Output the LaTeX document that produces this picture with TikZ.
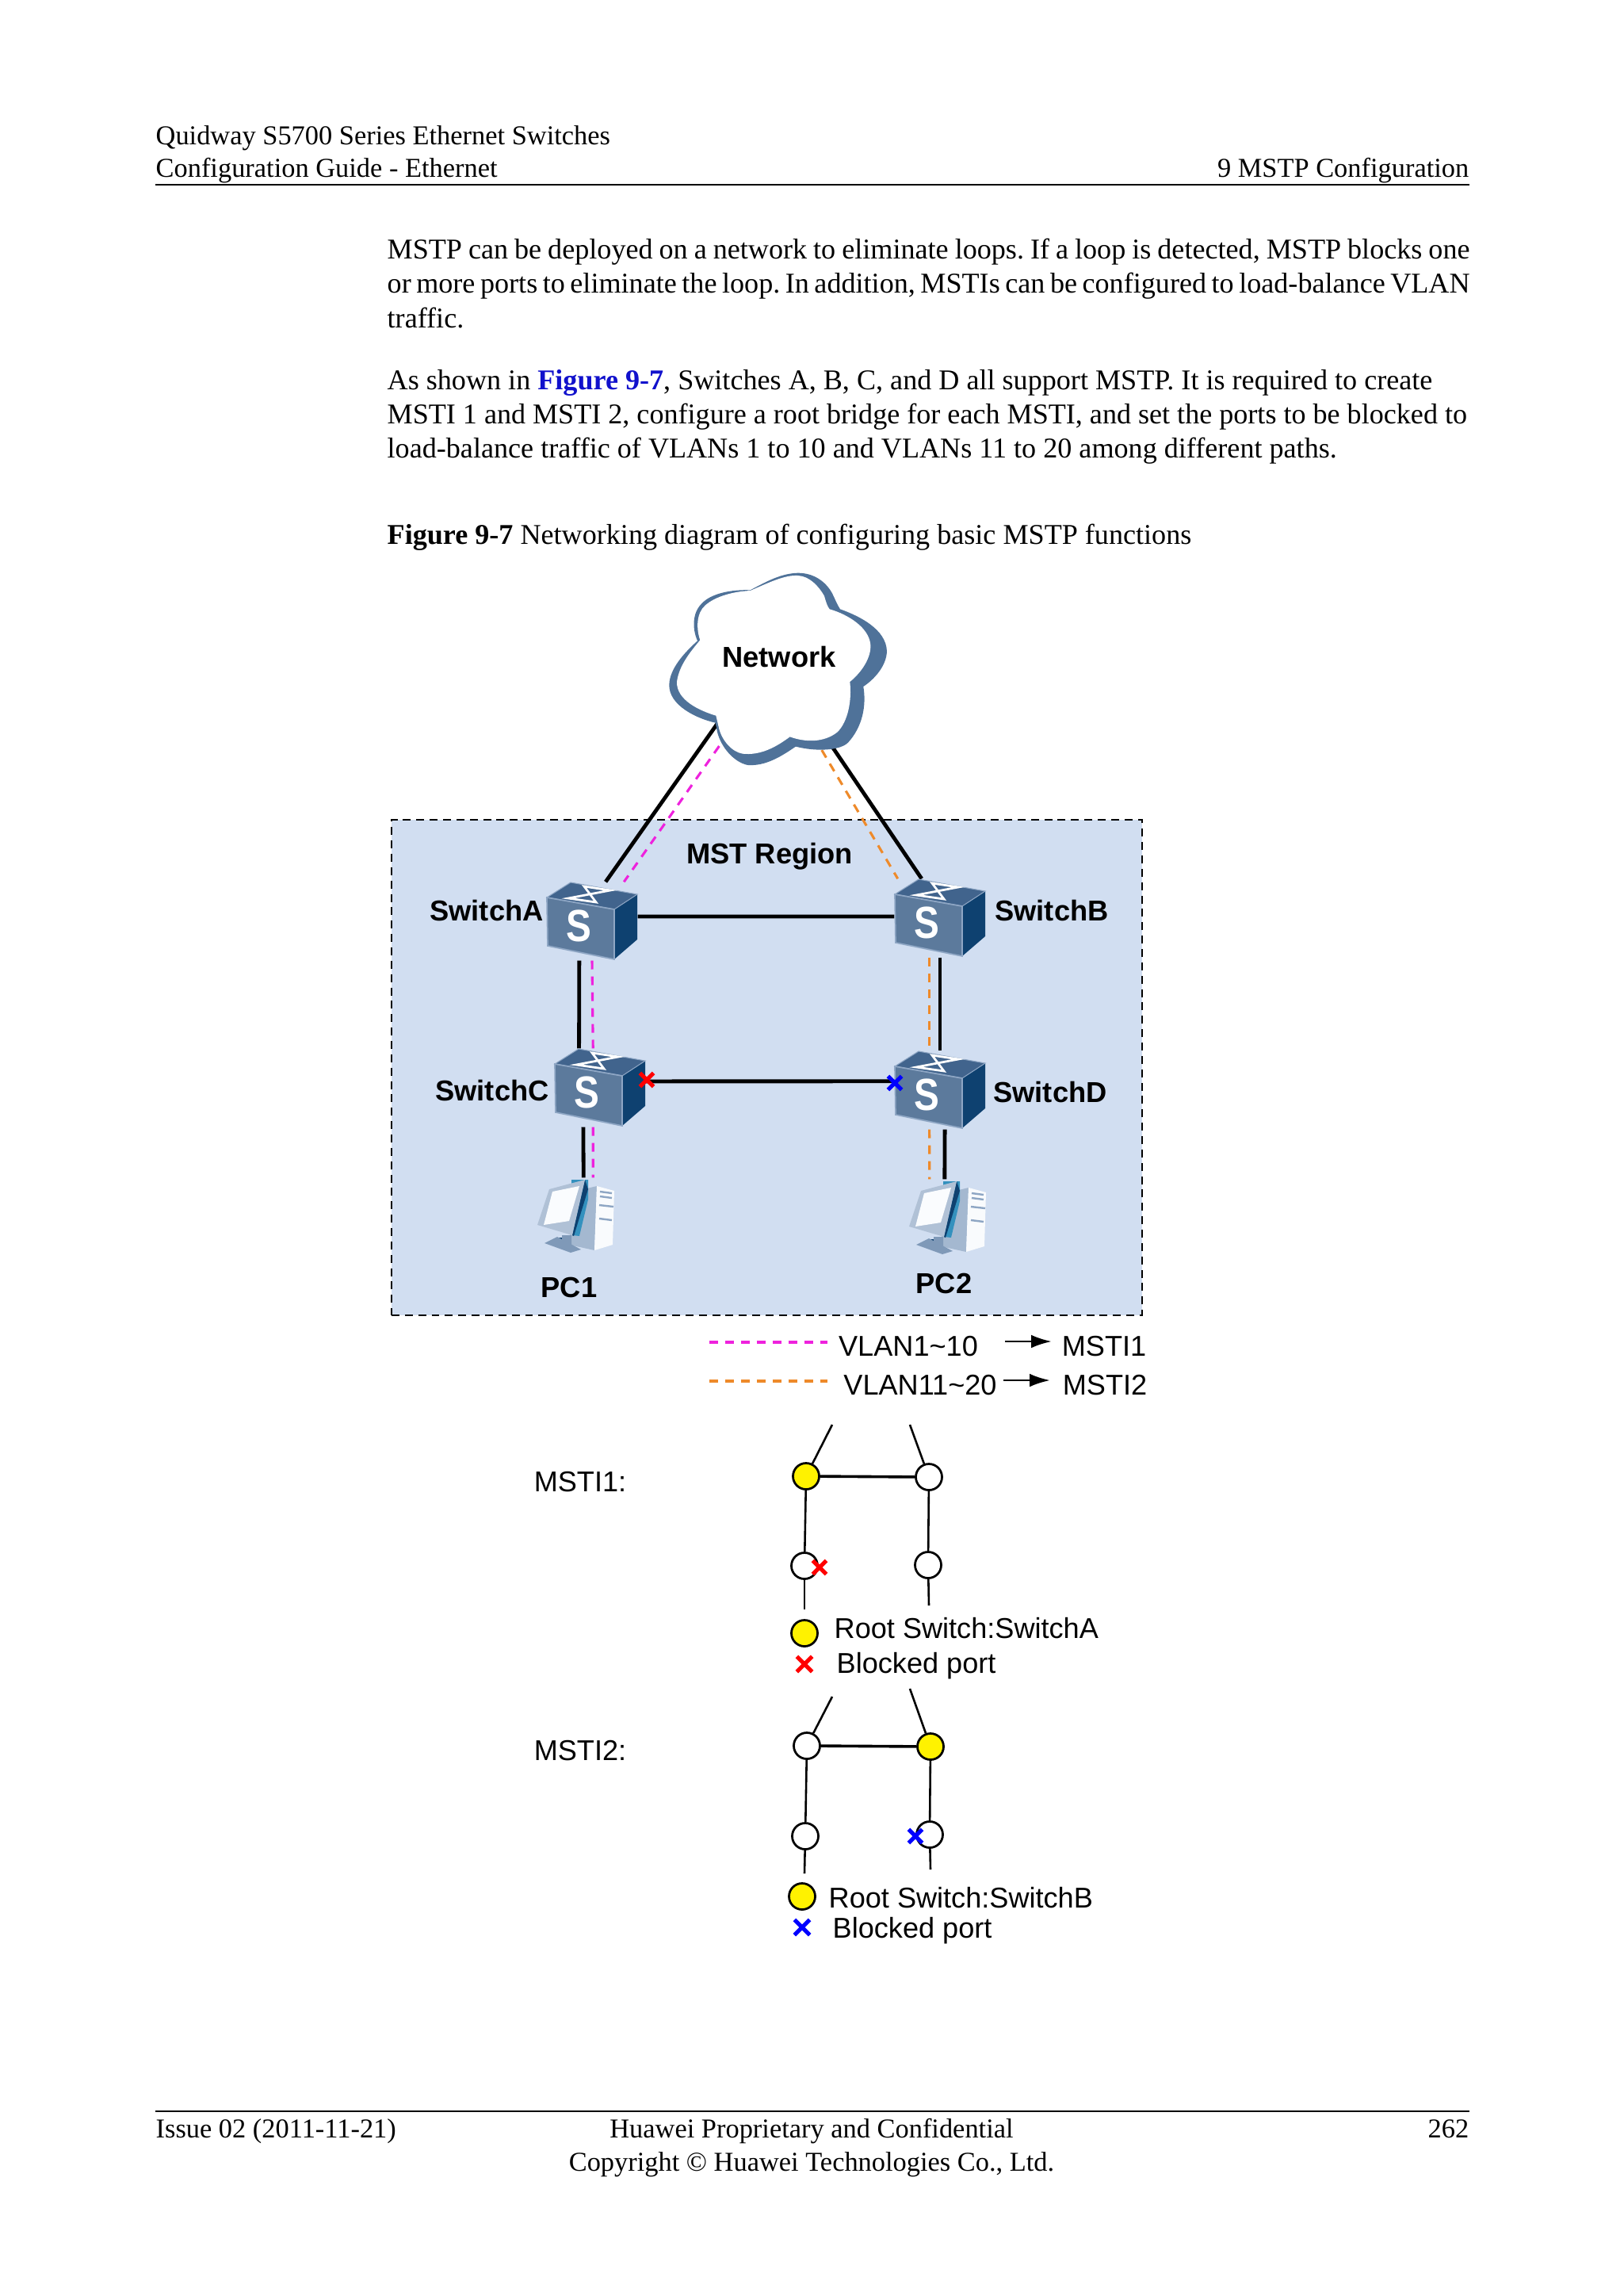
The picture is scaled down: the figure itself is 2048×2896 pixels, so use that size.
\documentclass[tikz,border=0pt]{standalone}
\usepackage{fontspec}
\usepackage{tikz}
\usetikzlibrary{arrows.meta,backgrounds,shapes.misc}
\setmainfont{Liberation Serif}
\newfontfamily\arialfont{Liberation Sans}
\definecolor{regionfill}{HTML}{D1DEF1}
\definecolor{cloudblue}{HTML}{4F7299}
\definecolor{cubetop}{HTML}{41648D}
\definecolor{cubefront}{HTML}{5C7A9C}
\definecolor{cubeside}{HTML}{0E4170}
\definecolor{cubeedge}{HTML}{8EA6C4}
\definecolor{vlanpink}{HTML}{EE22DD}
\definecolor{vlanorange}{HTML}{EE8A2A}
\definecolor{figblue}{HTML}{1111CC}
\tikzset{
  page/.style={inner sep=0pt,font=\fontsize{10}{12.5}\selectfont},
  body/.style={inner sep=0pt,anchor=base west,font=\fontsize{10.5}{12.5}\selectfont\frenchspacing},
  devlabel/.style={inner sep=0pt,font=\arialfont\bfseries\fontsize{10.55}{12}\selectfont},
  plainlabel/.style={inner sep=0pt,font=\arialfont\fontsize{10.5}{12}\selectfont},
  switchnode/.style={rectangle,inner sep=0pt,minimum width=33.1pt,minimum height=28.5pt},
  pcnode/.style={rectangle,inner sep=0pt,minimum width=27.9pt,minimum height=27.3pt},
  port/.style={circle,draw=black,line width=0.8pt,inner sep=0pt,minimum size=9.6pt,fill=white},
  rootport/.style={port,fill=yellow},
  blockx/.style={cross out,inner sep=0pt,minimum size=5pt,line width=1.5pt,outer sep=0pt,draw=#1},
  link/.style={line width=1.4pt,black},
  thinlink/.style={line width=0.75pt,black},
  vlanone/.style={line width=0.9pt,vlanpink,dash pattern=on 3.2pt off 2.6pt},
  vlantwo/.style={line width=0.9pt,vlanorange,dash pattern=on 3.2pt off 2.6pt},
  legendarrow/.style={-{Latex[length=7.5pt,width=4.8pt]},line width=0.85pt,black},
  cube/.pic={
    \fill [cubeside] (28,-15) -- (57,-34) -- (57,23) -- (28,48) -- cycle;
    \fill [cubetop,draw=cubeedge,line width=0.3pt] (-57,-30) -- (-27,-49) -- (57,-34) -- (28,-15) -- cycle;
    \fill [cubefront,draw=cubeedge,line width=0.5pt] (-57,-30) -- (28,-15) -- (28,48) -- (-56,31) -- cycle;
    \draw [white,line width=0.8pt] (-30,-29) -- (5,-24) -- (-10,-44) -- (23,-39) -- cycle;
    \node (-s) [white,inner sep=0pt,font=\arialfont\bfseries\fontsize{16.5}{18}\selectfont] at (-17,6) {\scalebox{0.84}[1]{S}};
  },
  pcicon/.pic={
    % tower, then monitor in front of it
    \fill [cubeedge!80!white] (26,-37) -- (23,44) -- (-9,37) -- (-3,-30) -- cycle;
    \fill [white!88!regionfill] (26,-37) -- (48,-31) -- (46,37) -- (23,44) -- cycle;
    \draw [cubeedge,line width=0.7pt] (30,-30) -- (45,-28) (30,-24) -- (45,-22) (29,-13) -- (47,-11) (29,4) -- (45,6);
    \fill [cubeside] (-24,28) -- (-8,28) -- (-6,44) -- (-20,40) -- cycle;
    \fill [cubeedge!70!cubefront] (-40,35) -- (-24,27) -- (6,43) -- (-7,47) -- cycle;
    \fill [cubeedge!70!cubefront] (-18,25) -- (-6,25) -- (-6,42) -- (-18,38) -- cycle;
    \fill [cyan!60!cubeside] (-6,-45) -- (15,-45) -- (15,-20) -- (4,26) -- (-5,25) -- cycle;
    \fill [cubeside] (11,-45) -- (15,-33) -- (-3,26) -- (-5,25) -- cycle;
    \fill [cubeedge!70!white] (-49,12) -- (-34,-33) -- (11,-45) -- (-5,25) -- cycle;
    \fill [white!90!regionfill] (-41,12) -- (-30,-30) -- (4,-37) -- (-9,7) -- cycle;
  },
}
\begin{document}
\begin{tikzpicture}[x=0.29066pt,y=-0.29066pt]
    \useasboundingbox (0,0) rectangle (2048,2896);
    % page text
    \node [page,anchor=base west] (head1) at (196,182) {Quidway S5700 Series Ethernet Switches};
    \node [page,anchor=base west] (head2) at (196,223) {Configuration Guide - Ethernet};
    \node [page,anchor=base east] (head3) at (1854,223) {9 MSTP Configuration};
    \coordinate (ruleAl) at (196,233);
    \coordinate (ruleAr) at (1854,233);
    \draw [line width=0.4pt] (ruleAl) -- (ruleAr);
    \node [body] (par1) at (488,326) {\makebox[397pt][s]{MSTP can be deployed on a network to eliminate loops. If a loop is detected, MSTP blocks one}};
    \node [body] (par2) at (488,369) {\makebox[397pt][s]{or more ports to eliminate the loop. In addition, MSTIs can be configured to load-balance VLAN}};
    \node [body] (par3) at (488,413) {traffic.};
    \node [body] (par4) at (488,491) {As shown in {\bfseries\color{figblue}Figure 9-7}, Switches A, B, C, and D all support MSTP. It is required to create};
    \node [body] (par5) at (488,534) {\makebox[396pt][s]{MSTI 1 and MSTI 2, configure a root bridge for each MSTI, and set the ports to be blocked to}};
    \node [body] (par6) at (488,577) {load-balance traffic of VLANs 1 to 10 and VLANs 11 to 20 among different paths.};
    \node [body] (cap) at (488,686) {{\bfseries Figure 9-7} Networking diagram of configuring basic MSTP functions};
    % network part
    \node [switchnode] (swA) at (747,1162) {};
    \node [switchnode] (swB) at (1186,1158) {};
    \node [switchnode] (swC) at (757,1372) {};
    \node [switchnode] (swD) at (1186,1375) {};
    \node [pcnode] (pc1) at (727,1533) {};
    \node [pcnode] (pc2) at (1196,1535) {};
    \begin{scope}[shift={(830,710)},scale=0.3333]
      \fill [cloudblue] (350,103) .. controls (420,65) and (470,40) .. (530,38)
        .. controls (590,38) and (635,70) .. (660,115)
        .. controls (672,140) and (680,160) .. (690,175)
        .. controls (760,200) and (865,250) .. (867,335)
        .. controls (865,390) and (820,440) .. (778,468)
        .. controls (790,540) and (775,620) .. (720,680)
        .. controls (690,710) and (600,715) .. (522,695)
        .. controls (470,730) and (410,770) .. (340,765)
        .. controls (290,755) and (240,700) .. (225,640)
        -- (218,605)
        .. controls (150,590) and (40,540) .. (43,460)
        .. controls (45,400) and (100,340) .. (150,295)
        .. controls (130,250) and (130,190) .. (165,155)
        .. controls (200,115) and (280,100) .. (350,103) -- cycle;
      \fill [white] (350,105) .. controls (420,75) and (480,45) .. (530,48)
        .. controls (575,50) and (610,90) .. (630,125)
        .. controls (637,150) and (642,165) .. (650,175)
        .. controls (720,195) and (800,245) .. (805,310)
        .. controls (808,360) and (770,415) .. (727,450)
        .. controls (735,520) and (720,600) .. (680,640)
        .. controls (630,680) and (560,680) .. (500,658)
        .. controls (450,695) and (390,730) .. (320,722)
        .. controls (280,715) and (240,670) .. (230,620)
        -- (220,578)
        .. controls (160,560) and (70,520) .. (72,450)
        .. controls (80,390) and (120,340) .. (160,292)
        .. controls (145,250) and (145,190) .. (180,160)
        .. controls (220,125) and (290,108) .. (350,105) -- cycle;
    \end{scope}
    \node [devlabel] (network) at (983,829) {Network};
    \node [devlabel] (region) at (971,1080) {MST Region};
    \node [devlabel] (labA) at (614,1149) {SwitchA};
    \node [devlabel] (labB) at (1327,1149) {SwitchB};
    \node [devlabel] (labC) at (621,1376) {SwitchC};
    \node [devlabel] (labD) at (1325,1378) {SwitchD};
    \node [devlabel] (labP1) at (718,1624) {PC1};
    \node [devlabel] (labP2) at (1191,1619) {PC2};
    \pic (cubeA) at (swA) {cube};
    \pic (cubeB) at (swB) {cube};
    \pic (cubeC) at (swC) {cube};
    \pic (cubeD) at (swD) {cube};
    \pic (iconA) at (pc1) {pcicon};
    \pic (iconB) at (pc2) {pcicon};
    \node [blockx=red] (blockC) at (816,1362) {};
    \node [blockx=blue] (blockD) at (1129,1366) {};
    % everything under the devices
    \begin{scope}[on background layer]
      \fill [white] (0,0) rectangle (2048,2896);
      \node [rectangle,draw=black,dash pattern=on 2.9pt off 2pt,line width=0.8pt,fill=regionfill,inner sep=0pt,minimum width=275.3pt,minimum height=181.7pt] (mstregion) at (967.5,1346.5) {};
      \draw [vlanone] (network.244) -- (swA.51);
      \draw [vlanone] (swA.south) -- (swC.100);
      \draw [vlanone] (swC.260) -- (pc1.66);
      \draw [vlantwo] (network.243) -- (swB.137);
      \draw [vlantwo] (swB.255) -- (swD.105);
      \draw [vlantwo] (swD.255) -- (pc2.116);
      \draw [link] (network.206) -- (swA.71);
      \draw [link] (network.south) -- (swB.115);
      \draw [link] (swA.6) -- (swB.178);
      \draw [link] (swA.252) -- (swC.118);
      \draw [link] (swB.south) -- (swD.north);
      \draw [link] (swC.8) -- (swD.169);
      \draw [link] (swC.247) -- (pc1.79);
      \draw [link] (swD.277) -- (pc2.95);
    \end{scope}
    % legend for the VLANs
    \coordinate (dashAl) at (895,1693);
    \coordinate (dashAr) at (1044,1693);
    \coordinate (dashBl) at (895,1742);
    \coordinate (dashBr) at (1044,1742);
    \draw [vlanone] (dashAl) -- (dashAr);
    \draw [vlantwo] (dashBl) -- (dashBr);
    \node [plainlabel] (vlanA) at (1146,1698) {VLAN1\textasciitilde10};
    \node [plainlabel] (vlanB) at (1161,1747) {VLAN11\textasciitilde20};
    \node [plainlabel] (mstiA) at (1393,1698) {MSTI1};
    \node [plainlabel] (mstiB) at (1394,1747) {MSTI2};
    \coordinate (arrAl) at (1268,1692);
    \coordinate (arrAr) at (1327,1692);
    \coordinate (arrBl) at (1266,1741);
    \coordinate (arrBr) at (1325,1741);
    \draw [legendarrow] (arrAl) -- (arrAr);
    \draw [legendarrow] (arrBl) -- (arrBr);
    % MSTI1
    \node [plainlabel] (instA) at (732,1869) {MSTI1:};
    \node [rootport] (aa) at (1017,1862) {};
    \node [port] (ab) at (1172,1863) {};
    \node [port] (ac) at (1015,1975) {};
    \node [port] (ad) at (1171,1974) {};
    \coordinate (aaup) at (1050,1797);
    \coordinate (abup) at (1148,1797);
    \coordinate (acdn) at (1015,2030);
    \coordinate (addn) at (1172,2025);
    \draw [thinlink] (aa) -- (aaup);
    \draw [thinlink] (ab) -- (abup);
    \draw [line width=1.05pt] (aa) -- (ab);
    \draw [thinlink] (aa) -- (ac);
    \draw [thinlink] (ab) -- (ad);
    \draw [thinlink] (ac) -- (acdn);
    \draw [thinlink] (ad) -- (addn);
    \node [blockx=red] (blockA) at (1034,1977) {};
    \node [rootport] (keyA) at (1015,2060) {};
    \node [plainlabel,anchor=west] (keyAt) at (1052,2054) {Root Switch:SwitchA};
    \node [blockx=red,minimum size=5.6pt] (keyAx) at (1015,2099) {};
    \node [plainlabel,anchor=west] (keyAb) at (1055,2101) {Blocked port};
    % MSTI2
    \node [plainlabel] (instB) at (732,2208) {MSTI2:};
    \node [port] (ba) at (1018,2202) {};
    \node [rootport] (bb) at (1174,2203) {};
    \node [port] (bc) at (1016,2316) {};
    \node [port] (bd) at (1173,2314) {};
    \coordinate (baup) at (1050,2140);
    \coordinate (bbup) at (1148,2130);
    \coordinate (bcdn) at (1015,2363);
    \coordinate (bddn) at (1174,2358);
    \draw [thinlink] (ba) -- (baup);
    \draw [thinlink] (bb) -- (bbup);
    \draw [line width=1.05pt] (ba) -- (bb);
    \draw [thinlink] (ba) -- (bc);
    \draw [thinlink] (bb) -- (bd);
    \draw [thinlink] (bc) -- (bcdn);
    \draw [thinlink] (bd) -- (bddn);
    \node [blockx=blue] (blockB) at (1155,2316) {};
    \node [rootport] (keyB) at (1012,2392) {};
    \node [plainlabel,anchor=west] (keyBt) at (1045,2394) {Root Switch:SwitchB};
    \node [blockx=blue,minimum size=5.6pt] (keyBx) at (1012,2431) {};
    \node [plainlabel,anchor=west] (keyBb) at (1050,2435) {Blocked port};
    % footer
    \coordinate (ruleBl) at (196,2663);
    \coordinate (ruleBr) at (1854,2663);
    \draw [line width=0.4pt] (ruleBl) -- (ruleBr);
    \node [page,anchor=base west] (foot1) at (196,2696) {Issue 02 (2011-11-21)};
    \node [page,anchor=base] (foot2) at (1024,2696) {Huawei Proprietary and Confidential};
    \node [page,anchor=base east] (foot3) at (1854,2696) {262};
    \node [page,anchor=base] (foot4) at (1024,2738) {Copyright © Huawei Technologies Co., Ltd.};
  \end{tikzpicture}
\end{document}
